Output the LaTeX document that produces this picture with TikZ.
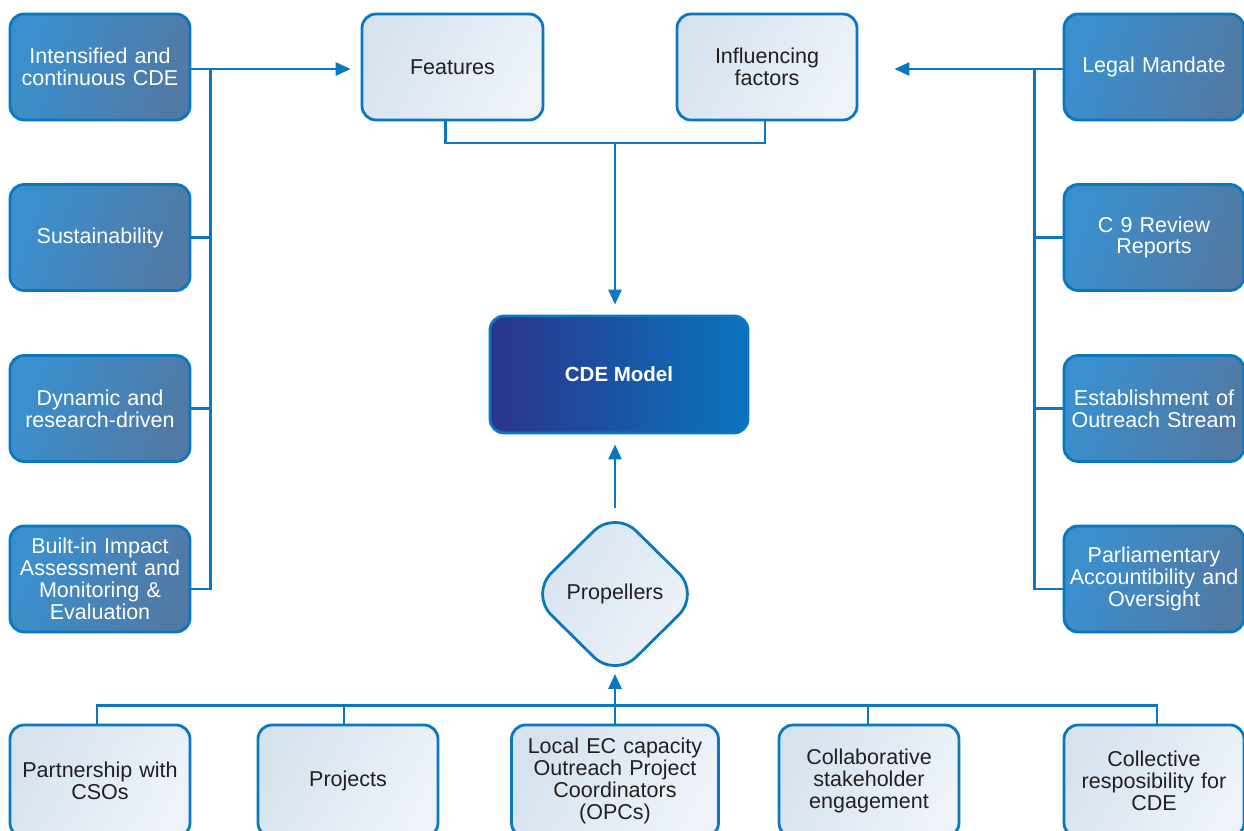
\documentclass[tikz,border=0pt]{standalone}
\usepackage{fontspec}
\setmainfont{Liberation Sans}
\usetikzlibrary{shapes.geometric,arrows.meta}
\definecolor{lineblue}{HTML}{0A78C0}
\definecolor{darkL}{HTML}{3A90CF}
\definecolor{darkR}{HTML}{5179A4}
\definecolor{lightL}{HTML}{D6E3EF}
\definecolor{lightR}{HTML}{EEF3F9}
\definecolor{modL}{HTML}{2B348A}
\definecolor{modM}{HTML}{0D53A0}
\definecolor{modR}{HTML}{0A74BD}
\definecolor{txt}{HTML}{231F20}
\tikzset{
  base/.style={draw=lineblue, line width=2.8pt, rounded corners=14pt, align=center,
    font=\fontsize{21.5}{21.8}\selectfont, inner sep=2pt},
  darkbox/.style={base, left color=darkL, right color=darkR, shading angle=70, text=white,
    minimum width=180pt, minimum height=106pt, text width=176pt},
  lightbox/.style={base, left color=lightL, right color=lightR, shading angle=60, text=txt,
    minimum width=180pt, minimum height=106pt, text width=176pt},
  modelbox/.style={base, left color=modL, middle color=modM, right color=modR, text=white,
    font=\bfseries\fontsize{20.5}{22}\selectfont, minimum width=258pt, minimum height=117pt},
  propbox/.style={draw=lineblue, line width=2.8pt, shape=diamond, rounded corners=30pt,
    left color=lightL, right color=lightR, shading angle=60, text=txt,
    font=\fontsize{21.5}{22}\selectfont, minimum width=171pt, minimum height=169pt, inner sep=0pt},
  conn/.style={draw=lineblue, line width=2.8pt},
  arr/.style={conn, -{Triangle[length=15pt,width=13pt]}}
}
\begin{document}
\begin{tikzpicture}[x=1pt,y=-1pt]
\clip (0,0) rectangle (1244,830);
\fill[white] (0,0) rectangle (1244,830);

% left column
\node[darkbox] (L1) at (100,67) {Intensified and\\continuous CDE};
\node[darkbox] (L2) at (100,237.5) {Sustainability};
\node[darkbox] (L3) at (100,408.5) {Dynamic and\\research-driven};
\node[darkbox] (L4) at (100,579) {Built-in Impact\\Assessment and\\Monitoring \&\\Evaluation};

% right column
\node[darkbox] (R1) at (1154,67) {Legal Mandate};
\node[darkbox] (R2) at (1154,237.5) {C 9 Review\\Reports};
\node[darkbox] (R3) at (1154,408.5) {Establishment of\\Outreach Stream};
\node[darkbox] (R4) at (1154,579) {Parliamentary\\Accountibility and\\Oversight};

% top
\node[lightbox, minimum width=181pt] (F) at (452.5,67) {Features};
\node[lightbox] (I) at (767,67) {Influencing\\factors};

% model
\node[modelbox] (M) at (619,374.5) {CDE Model};

% propellers
\node[propbox] (P) at (615,594) {Propellers};

% bottom row
\node[lightbox, minimum height=112pt] (B1) at (100,781) {Partnership with\\CSOs};
\node[lightbox, minimum height=112pt] (B2) at (348,781) {Projects};
\node[lightbox, minimum height=112pt, minimum width=207pt, text width=202pt] (B3) at (615,781) {Local EC capacity\\Outreach Project\\Coordinators\\(OPCs)};
\node[lightbox, minimum height=112pt] (B4) at (869,781) {Collaborative\\stakeholder\\engagement};
\node[lightbox, minimum height=112pt] (B5) at (1154,781) {Collective\\resposibility for\\CDE};

% left connectors
\coordinate (l1) at ([yshift=-2pt]L1.east);
\draw[arr, shorten >=10pt] (l1) -- (l1 -| F.west);
\draw[conn] ([xshift=19pt]l1) |- ([yshift=-10pt]L4.east);
\draw[conn] (L2.east) -- ++(19,0);
\draw[conn] (L3.east) -- ++(19,0);

% right connectors
\coordinate (r1) at ([yshift=-2pt]R1.west);
\draw[arr, shorten >=36pt] (r1) -- (r1 -| I.east);
\draw[conn] ([xshift=-28pt]r1) |- ([yshift=-10pt]R4.west);
\draw[conn] (R2.west) -- ++(-28,0);
\draw[conn] (R3.west) -- ++(-28,0);

% top to model
\coordinate (jn) at (615,143);
\draw[conn] ([xshift=-7pt]F.south) |- (jn) -| ([xshift=-2pt]I.south);
\draw[arr, shorten >=10pt] (jn) -- (jn |- M.north);

% propellers to model
\draw[arr, shorten >=10pt] (P.north) -- (P.north |- M.south);

% bottom bus
\draw[conn] ([xshift=-3pt]B1.north) -- ++(0,-18) -| ([xshift=3pt]B5.north);
\draw[conn] ([xshift=-4pt]B2.north) -- ++(0,-18);
\draw[conn] ([xshift=-1pt]B4.north) -- ++(0,-18);
\coordinate (bj) at (615,707);
\draw[conn] (B3.north) -- (bj);
\draw[arr, shorten >=-6pt] (bj) -- (P.south);
\end{tikzpicture}
\end{document}
